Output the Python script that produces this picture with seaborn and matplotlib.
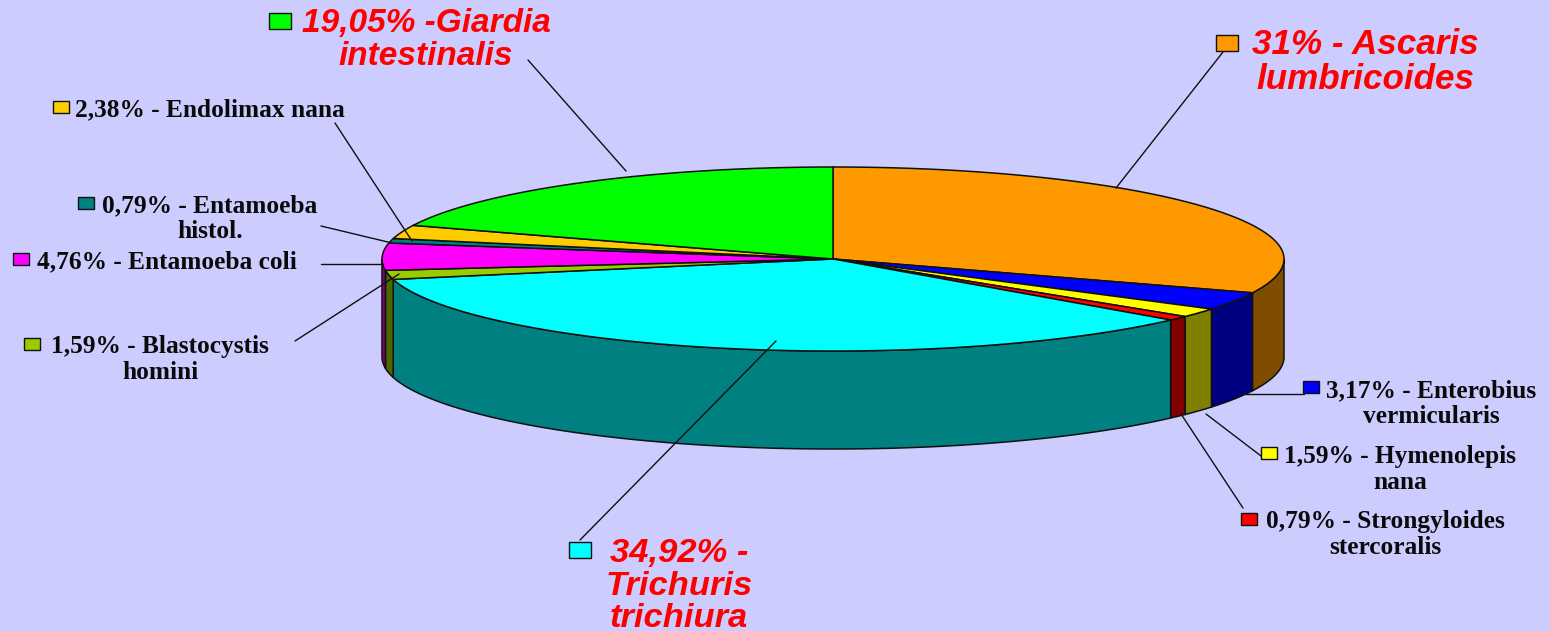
import numpy as np
import seaborn as sns
import matplotlib
matplotlib.use('Agg')
import matplotlib.pyplot as plt
from matplotlib.patches import Polygon, Rectangle

# values read clockwise from 12 o'clock
species = ['Ascaris lumbricoides', 'Enterobius vermicularis', 'Hymenolepis nana',
           'Strongyloides stercoralis', 'Trichuris trichiura', 'Blastocystis homini',
           'Entamoeba coli', 'Entamoeba histol.', 'Endolimax nana', 'Giardia intestinalis']
percent = [31, 3.17, 1.59, 0.79, 34.92, 1.59, 4.76, 0.79, 2.38, 19.05]
top_colors = ['#FF9900', '#0000FF', '#FFFF00', '#FF0000', '#00FFFF',
              '#99CC00', '#FF00FF', '#008080', '#FFCC00', '#00FF00']
labels = ['31% - Ascaris\nlumbricoides', '3,17% - Enterobius\nvermicularis',
          '1,59% - Hymenolepis\nnana', '0,79% - Strongyloides\nstercoralis',
          '34,92% -\nTrichuris\ntrichiura', '1,59% - Blastocystis\nhomini',
          '4,76% - Entamoeba coli', '0,79% - Entamoeba\nhistol.',
          '2,38% - Endolimax nana', '19,05% -Giardia\nintestinalis']

# layout in pixels: key x, key y, text centre x, text top y, font size (0 = small label)
layout = [(1216, 35, 1365, 28, 25.2), (1303, 381, 1431, 379, 0),
          (1261, 447, 1400, 445, 0), (1241, 513, 1385, 510, 0),
          (569, 542, 679, 538, 24.8), (24, 338, 160, 335, 0),
          (13, 253, 167, 250, 0), (78, 197, 210, 194, 0),
          (53, 101, 210, 98, 0), (269, 13, 426, 8, 24)]
leaders = [((1223, 52), (1116, 188)), ((1304, 394), (1245, 394)),
           ((1265, 459), (1206, 414)), ((1243, 508), (1181, 414)),
           ((580, 540), (776, 341)), ((295, 341), (399, 274)),
           ((321, 264), (383, 264)), ((321, 226), (392, 243)),
           ((335, 123), (412, 241)), ((528, 60), (626, 171))]

sns.set_theme(style='white')
bg = '#CCCCFF'
fig, ax = plt.subplots(figsize=(15.5, 6.31), dpi=100, facecolor=bg)
ax.set_position([0, 0, 1, 1])
ax.set_facecolor(bg)
ax.set_xlim(0, 1550)
ax.set_ylim(631, 0)
ax.set(xticks=[], yticks=[])
sns.despine(ax=ax, left=True, bottom=True)

cx, cy, rx, ry, depth = 833, 259, 451, 92, 98


def arc(a, b):
    t = np.linspace(a, b, max(int((b - a) * 200), 2))
    return np.column_stack([cx + rx * np.sin(t), cy - ry * np.cos(t)])


edges = np.cumsum([0] + percent) / sum(percent) * 2 * np.pi
dark = [tuple(c * 0.5 for c in matplotlib.colors.to_rgb(col)) for col in top_colors]
dark[4] = matplotlib.colors.to_rgb('#008080')
dark[5] = matplotlib.colors.to_rgb('#4D6600')

# side walls, only the front half of the ellipse shows
for i in range(len(percent)):
    a = max(edges[i], np.pi / 2)
    b = min(edges[i + 1], 3 * np.pi / 2)
    if b <= a:
        continue
    up = arc(a, b)
    down = up[::-1] + [0, depth]
    ax.add_patch(Polygon(np.vstack([up, down]), closed=True, fc=dark[i], ec='#101010', lw=1.1))

# top of the pie
for i in range(len(percent)):
    pts = np.vstack([[cx, cy], arc(edges[i], edges[i + 1])])
    ax.add_patch(Polygon(pts, closed=True, fc=top_colors[i], ec='#101010', lw=1.1))

for p0, p1 in leaders:
    ax.plot([p0[0], p1[0]], [p0[1], p1[1]], color='#101010', lw=1)

for i, (kx, ky, tx, ty, size) in enumerate(layout):
    w, h = (22, 16) if size else (16, 12)
    ax.add_patch(Rectangle((kx, ky), w, h, fc=top_colors[i], ec='#101010', lw=1, zorder=3))
    if size:
        ax.text(tx, ty, labels[i], color='#FF0000', ha='center', va='top', ma='center',
                family='Liberation Sans', weight='bold', style='italic', fontsize=size,
                linespacing=1.07)
    else:
        ax.text(tx, ty, labels[i], color='#0A0A0A', ha='center', va='top', ma='center',
                family='Liberation Serif', weight='bold', fontsize=18.3, linespacing=1.18)

fig.savefig('out.png', dpi=100, facecolor=bg)
